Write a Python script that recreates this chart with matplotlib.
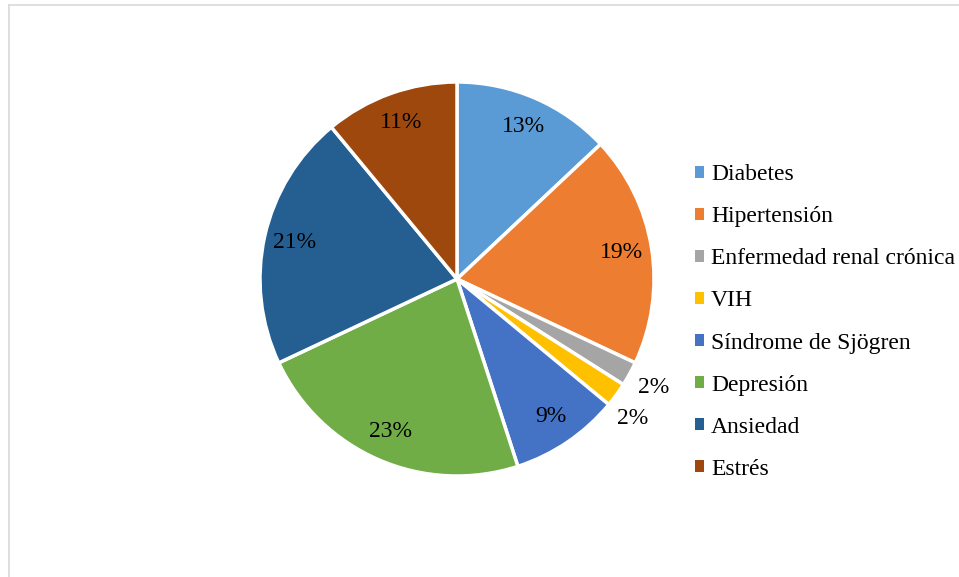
import numpy as np
import matplotlib
matplotlib.use("Agg")
import matplotlib.pyplot as plt
from matplotlib.patches import Patch
from matplotlib.lines import Line2D

labels = ["Diabetes", "Hipertensión", "Enfermedad renal crónica", "VIH",
          "Síndrome de Sjögren", "Depresión", "Ansiedad", "Estrés"]
values = [13, 19, 2, 2, 9, 23, 21, 11]
colors = ["#5B9BD5", "#ED7D31", "#A5A5A5", "#FFC000",
          "#4472C4", "#70AD47", "#255E91", "#9E480E"]

W, H = 959, 577
plt.rcParams["font.family"] = ["Liberation Serif", "DejaVu Serif"]

fig = plt.figure(figsize=(W / 100, H / 100), dpi=100)
ax = fig.add_axes([0, 0, 1, 1])
ax.set_xlim(0, W)
ax.set_ylim(0, H)
ax.axis("off")

cx, cy, r = 457, H - 279, 197
wedges, _ = ax.pie(values, colors=colors, startangle=90, counterclock=False,
                   center=(cx, cy), radius=r,
                   wedgeprops=dict(edgecolor="white", linewidth=2.5))
ax.set_xlim(0, W)
ax.set_ylim(0, H)

total = sum(values)
for i, (w, v) in enumerate(zip(wedges, values)):
    mid = (w.theta1 + w.theta2) / 2
    if v > 5:
        d = 0.845
    else:
        d = 1.14
        mid -= 2.5 * (i == 3)  # nudge the second small label down like the original
    mid = np.deg2rad(mid)
    ax.text(cx + d * r * np.cos(mid), cy + d * r * np.sin(mid),
            f"{v / total * 100:.0f}%", ha="center", va="center",
            fontsize=17, color="black")

handles = [Patch(facecolor=c, edgecolor="none") for c in colors]
ax.legend(handles, labels, loc="center left", bbox_to_anchor=(695, H - 322),
          bbox_transform=ax.transData, frameon=False, fontsize=17,
          handlelength=0.38, handleheight=0.38, handletextpad=0.3,
          labelspacing=0.89, borderpad=0, borderaxespad=0)

# chart-area border (only left and top visible in crop)
fig.add_artist(Line2D([8.5 / W, 8.5 / W], [0, 1 - 5 / H], color="#d9d9d9", lw=1.2,
                      transform=fig.transFigure))
fig.add_artist(Line2D([8.5 / W, 1], [1 - 5 / H, 1 - 5 / H], color="#d9d9d9", lw=1.2,
                      transform=fig.transFigure))

fig.savefig("out.png", dpi=100)
